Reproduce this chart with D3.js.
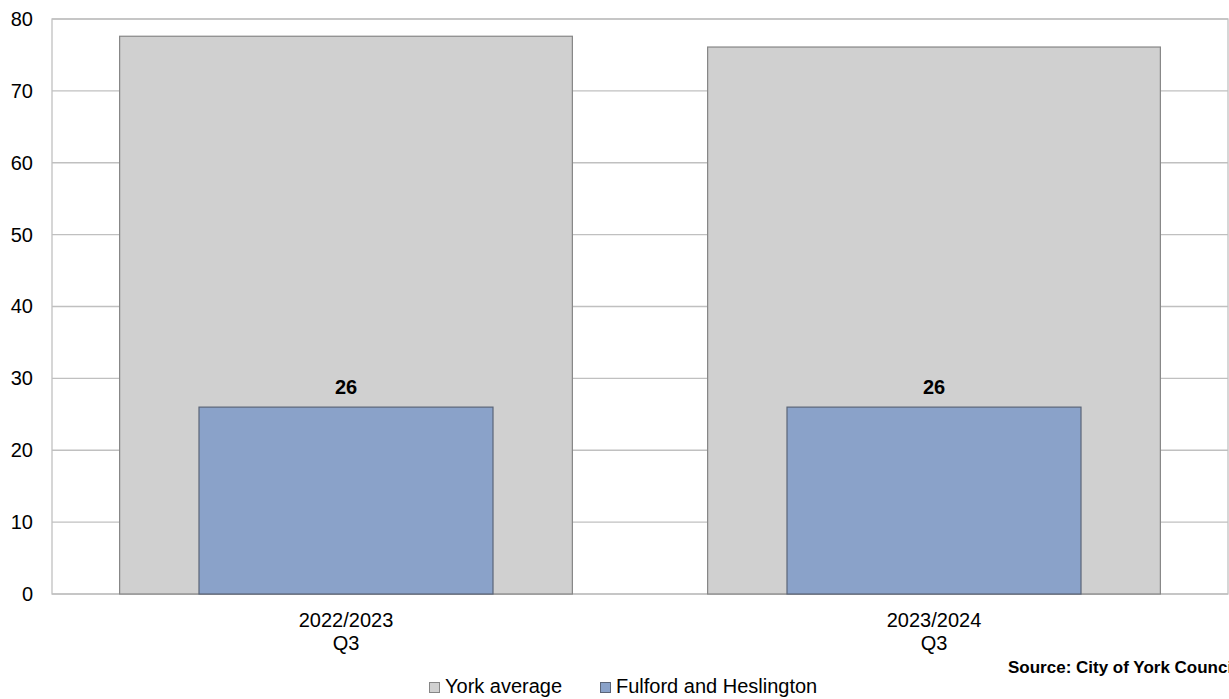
<!DOCTYPE html>
<html>
<head>
<meta charset="utf-8">
<script src="https://cdn.jsdelivr.net/npm/d3@7"></script>
<style>
  html, body { margin: 0; padding: 0; background: #fff; overflow: hidden; }
  svg text { font-family: "Liberation Sans", Arial, sans-serif; }
</style>
</head>
<body>
<svg id="chart" width="1229" height="699"></svg>
<script>
const categories = [["2022/2023", "Q3"], ["2023/2024", "Q3"]];
const seriesNames = ["York average", "Fulford and Heslington"];
const yorkAverage = [77.6, 76.1];
const fulford = [26, 26];
const yTicks = [0, 10, 20, 30, 40, 50, 60, 70, 80];
const sourceText = "Source: City of York Council";

const svg = d3.select("#chart");
const m = { left: 52, right: 1228, top: 19, bottom: 594 };

const x = d3.scaleBand().domain(d3.range(categories.length)).range([m.left, m.right]).padding(0);
const y = d3.scaleLinear().domain([0, 80]).range([m.bottom, m.top]);

// gridlines
svg.append("g").selectAll("line").data(yTicks).join("line")
  .attr("x1", m.left).attr("x2", m.right)
  .attr("y1", d => y(d)).attr("y2", d => y(d))
  .attr("stroke", "#c0c0c0").attr("stroke-width", 1.3);

// plot border
svg.append("rect").attr("x", m.left).attr("y", m.top)
  .attr("width", m.right - m.left).attr("height", m.bottom - m.top)
  .attr("fill", "none").attr("stroke", "#c0c0c0").attr("stroke-width", 1.3);

const bw = x.bandwidth();
// York average bars
svg.append("g").selectAll("rect").data(yorkAverage).join("rect")
  .attr("x", (d, i) => x(i) + bw * 0.115)
  .attr("width", bw * 0.77)
  .attr("y", d => y(d))
  .attr("height", d => y(0) - y(d))
  .attr("fill", "#d0d0d0").attr("stroke", "#868686").attr("stroke-width", 1.2);

// Fulford bars
svg.append("g").selectAll("rect").data(fulford).join("rect")
  .attr("x", (d, i) => x(i) + bw * 0.25)
  .attr("width", bw * 0.5)
  .attr("y", d => y(d))
  .attr("height", d => y(0) - y(d))
  .attr("fill", "#8aa2c9").attr("stroke", "#5b6578").attr("stroke-width", 1.2);

// data labels
svg.append("g").selectAll("text").data(fulford).join("text")
  .attr("x", (d, i) => x(i) + bw / 2)
  .attr("y", d => y(d) - 13)
  .attr("text-anchor", "middle").attr("font-size", 20).attr("font-weight", "bold")
  .attr("fill", "#000").text(d => d);

// y axis labels
const yAxis = d3.axisLeft(y).tickValues(yTicks).tickSize(0).tickPadding(19);
const ya = svg.append("g").attr("transform", `translate(${m.left},0)`).call(yAxis);
ya.select(".domain").remove();
ya.selectAll("text").attr("font-size", 20).attr("fill", "#000")
  .attr("font-family", "Liberation Sans, Arial, sans-serif");

// x axis labels
const xa = svg.append("g").selectAll("text").data(categories).join("text")
  .attr("x", (d, i) => x(i) + bw / 2)
  .attr("y", 627)
  .attr("text-anchor", "middle").attr("font-size", 20).attr("fill", "#000");
xa.selectAll("tspan").data(d => d).join("tspan")
  .attr("x", function() { return d3.select(this.parentNode).attr("x"); })
  .attr("dy", (d, i) => i === 0 ? 0 : 23)
  .text(d => d);

// source
svg.append("text").attr("x", 1008).attr("y", 673)
  .attr("font-size", 17).attr("font-weight", "bold").attr("fill", "#000")
  .text(sourceText);

// legend
const legendX = [429, 600];
const lg = svg.append("g").selectAll("g").data(seriesNames).join("g")
  .attr("transform", (d, i) => `translate(${legendX[i]},0)`);
lg.append("rect").attr("x", 0.5).attr("y", 682.5).attr("width", 10).attr("height", 10)
  .attr("fill", (d, i) => i === 0 ? "#d0d0d0" : "#8aa2c9")
  .attr("stroke", (d, i) => i === 0 ? "#868686" : "#5b6578").attr("stroke-width", 1);
lg.append("text").attr("x", 16).attr("y", 693).attr("font-size", 20).attr("fill", "#000")
  .text(d => d);
</script>
</body>
</html>
